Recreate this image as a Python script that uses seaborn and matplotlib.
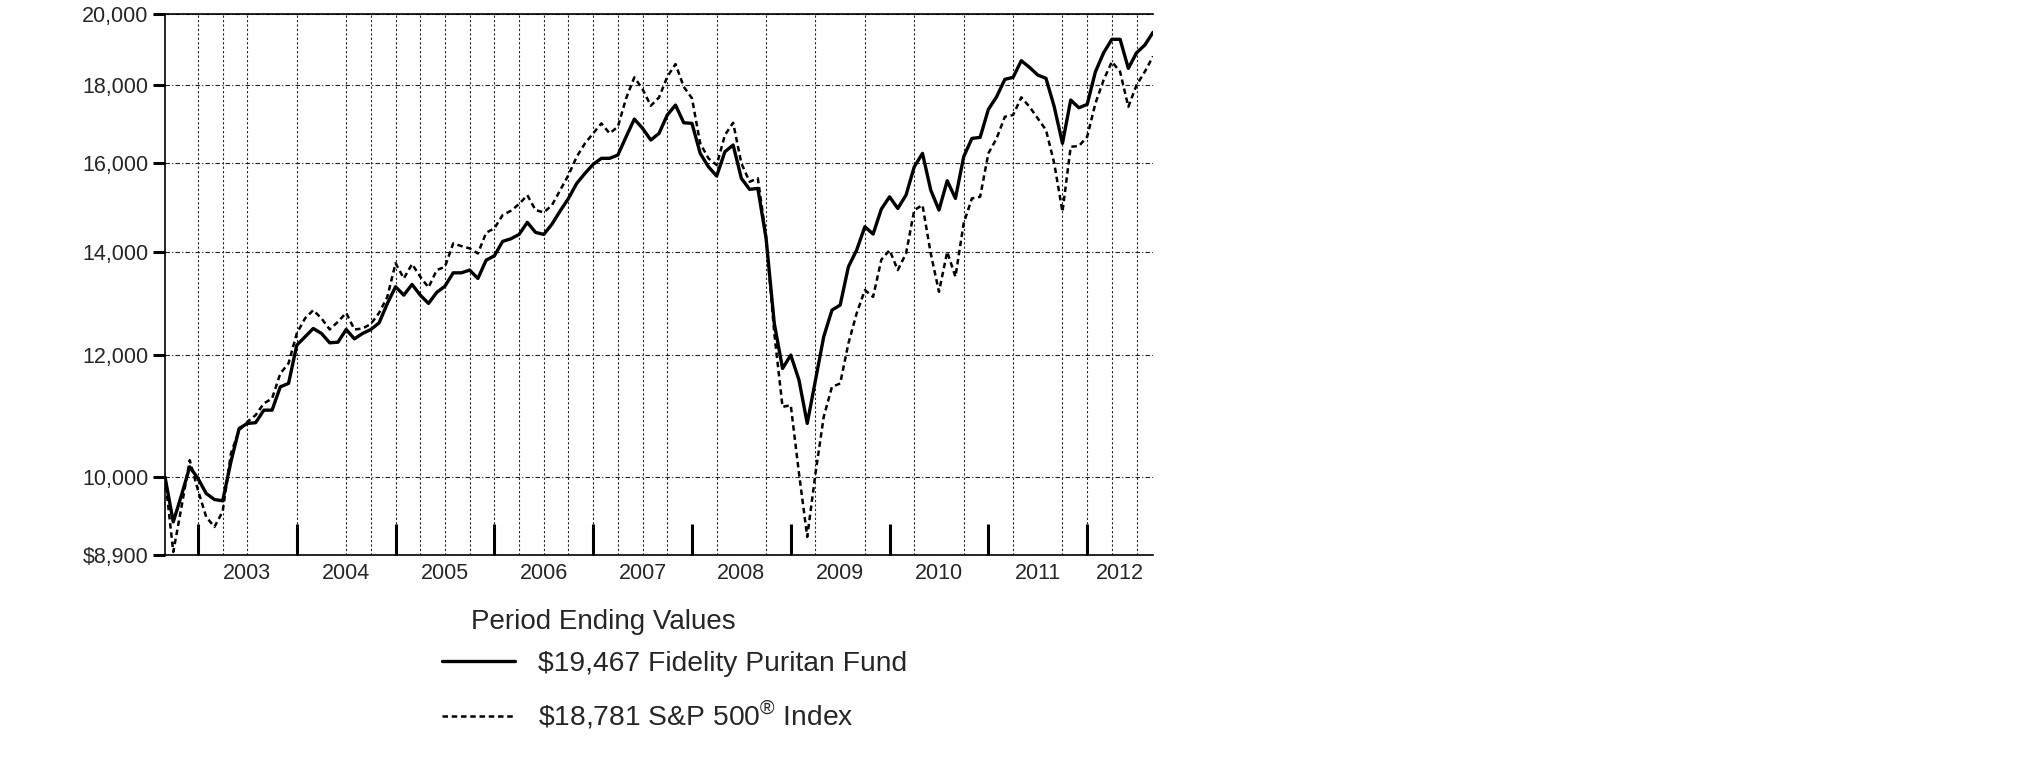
import numpy as np
import pandas as pd
import matplotlib
matplotlib.use("Agg")
import matplotlib.pyplot as plt
import seaborn as sns
from matplotlib.ticker import FixedLocator, FixedFormatter, NullLocator

# hypothetical $10,000 invested, month-end values, Jul 2002 .. Jul 2012
fund = [10000, 9352, 9734, 10157, 9980, 9759, 9671, 9652, 10232, 10757,
        10838, 10850, 11056, 11056, 11449, 11507, 12186, 12338, 12494, 12402,
        12229, 12240, 12475, 12302, 12402, 12475, 12600, 12970, 13300, 13134,
        13346, 13134, 12972, 13188, 13312, 13580, 13580, 13636, 13466, 13840,
        13930, 14234, 14290, 14384, 14646, 14428, 14384, 14608, 14902, 15180,
        15526, 15760, 15976, 16120, 16120, 16200, 16648, 17096, 16860, 16568,
        16734, 17200, 17458, 17002, 16986, 16240, 15918, 15698, 16280, 16444,
        15644, 15388, 15410, 14300, 12588, 11768, 12006, 11564, 10838, 11564,
        12340, 12842, 12940, 13704, 14050, 14550, 14392, 14940, 15218, 14955,
        15257, 15918, 16240, 15372, 14918, 15588, 15181, 16158, 16608, 16634,
        17346, 17676, 18144, 18198, 18658, 18472, 18262, 18171, 17414, 16485,
        17590, 17388, 17476, 18350, 18880, 19265, 19265, 18446, 18880, 19100,
        19467]
sp500 = [10000, 8940, 9564, 10258, 9806, 9422, 9282, 9500, 10360, 10728,
         10864, 10974, 11168, 11250, 11680, 11858, 12402, 12684, 12842, 12684,
         12475, 12620, 12790, 12475, 12494, 12580, 12790, 13100, 13778, 13466,
         13760, 13500, 13286, 13636, 13704, 14192, 14134, 14086, 13980, 14420,
         14516, 14806, 14902, 15052, 15256, 14918, 14866, 15030, 15372, 15720,
         16158, 16484, 16734, 16986, 16734, 16900, 17636, 18198, 17880, 17440,
         17660, 18214, 18564, 17944, 17636, 16484, 16120, 15958, 16692, 17002,
         16000, 15564, 15644, 14332, 12402, 11110, 11138, 10056, 9144, 10056,
         10944, 11448, 11506, 12218, 12780, 13234, 13100, 13850, 14050, 13636,
         13980, 14918, 15030, 13980, 13200, 14014, 13500, 14624, 15181, 15218,
         16240, 16608, 17156, 17200, 17662, 17414, 17114, 16818, 16000, 14880,
         16402, 16420, 16649, 17502, 18126, 18630, 18352, 17414, 17990, 18352,
         18781]

fund_label = "\\$19,467 Fidelity Puritan Fund"
sp_label = "\\$18,781 S&P 500$^{\\circledR}$ Index"

years = ["2003", "2004", "2005", "2006", "2007", "2008", "2009", "2010", "2011", "2012"]
year_starts = [4, 16, 28, 40, 52, 64, 76, 88, 100, 112]   # month index of each new year
grid_months = [4, 7, 10, 16, 22, 25, 28, 31, 34, 37, 40, 43, 46, 49, 52, 55,
               58, 61, 67, 73, 79, 85, 91, 97, 103, 109, 112, 115, 118]
y_ticks = [8900, 10000, 12000, 14000, 16000, 18000, 20000]
y_tick_labels = ["\\$8,900", "10,000", "12,000", "14,000", "16,000", "18,000", "20,000"]

n = len(fund)
months = np.arange(n)
df = pd.DataFrame({
    "month": np.concatenate([months, months]),
    "value": fund + sp500,
    "series": [fund_label] * n + [sp_label] * n,
})

sns.set_style("ticks")
plt.rcParams["font.family"] = ["Liberation Sans", "DejaVu Sans"]
plt.rcParams["mathtext.fontset"] = "custom"
plt.rcParams["mathtext.rm"] = "Liberation Sans"

fig = plt.figure(figsize=(20.25, 7.61), dpi=100)
ax = fig.add_axes([0.0815, 0.2707, 0.4879, 0.7105])

sns.lineplot(data=df, x="month", y="value", hue="series", style="series", size="series",
             palette={fund_label: "black", sp_label: "black"},
             dashes={fund_label: "", sp_label: (2.2, 1.5)},
             sizes={fund_label: 2.4, sp_label: 1.8},
             estimator=None, legend=False, ax=ax)
lines = ax.get_lines()[:2]

ax.set_yscale("log")
ax.set_xlim(0, n - 1)
ax.set_ylim(y_ticks[0], y_ticks[-1])
ax.yaxis.set_major_locator(FixedLocator(y_ticks))
ax.yaxis.set_major_formatter(FixedFormatter(y_tick_labels))
ax.yaxis.set_minor_locator(NullLocator())
ax.set_xlabel("")
ax.set_ylabel("")

# year boundaries as big inside ticks, year names centred between them
bounds = year_starts + [n - 1]
mids = [(a + b) / 2 for a, b in zip(bounds[:-1], bounds[1:])]
ax.xaxis.set_major_locator(FixedLocator(year_starts))
ax.xaxis.set_major_formatter(FixedFormatter([""] * len(year_starts)))
ax.xaxis.set_minor_locator(FixedLocator(mids))
ax.xaxis.set_minor_formatter(FixedFormatter(years))
ax.tick_params(axis="x", which="major", direction="in", length=22, width=2.2, color="black")
ax.tick_params(axis="x", which="minor", length=0, pad=6, labelsize=15.5)
ax.tick_params(axis="y", which="major", direction="out", length=9, width=2.2,
               color="black", pad=3, labelsize=15.5)

# grid
ax.yaxis.grid(True, linestyle=(0, (4, 2, 1, 2)), color="#222222", linewidth=0.8)
ax.vlines(grid_months, y_ticks[0], y_ticks[-1], colors="#222222",
          linestyles=(0, (2, 2)), linewidth=0.8, zorder=0.5)

for side in ["top", "left", "bottom"]:
    ax.spines[side].set_color("black")
    ax.spines[side].set_linewidth(1.2)
ax.spines["right"].set_visible(False)

fig.text(471 / 2025, 1 - 622 / 761, "Period Ending Values", fontsize=20, va="center", ha="left")
fig.legend(lines, [fund_label, sp_label], loc="upper left",
           bbox_to_anchor=(442 / 2025, 1 - 651 / 761), frameon=False, fontsize=20.3,
           handlelength=2.6, handletextpad=0.8, labelspacing=0.8,
           borderpad=0, borderaxespad=0)

fig.savefig("out.png", dpi=100, facecolor="white")
